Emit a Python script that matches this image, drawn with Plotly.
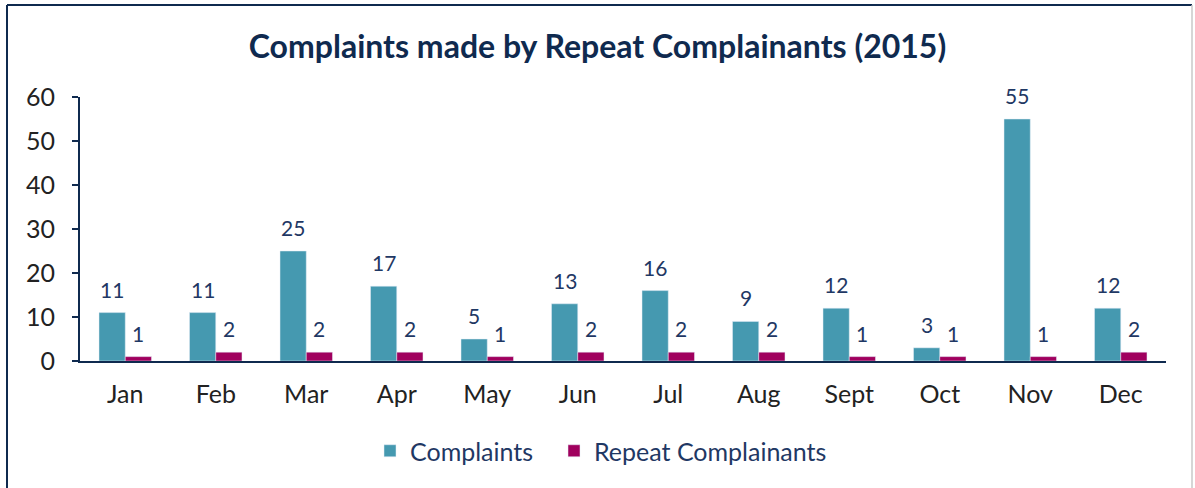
import plotly.graph_objects as go

months = ["Jan", "Feb", "Mar", "Apr", "May", "Jun", "Jul", "Aug", "Sept", "Oct", "Nov", "Dec"]
complaints = [11, 11, 25, 17, 5, 13, 16, 9, 12, 3, 55, 12]
repeat = [1, 2, 2, 2, 1, 2, 2, 2, 1, 1, 1, 2]

NAVY = "#0F2A4F"
LABEL = "#1F3864"
FONT = "Lato"

fig = go.Figure()
fig.add_trace(go.Bar(name="Complaints", x=months, y=complaints, marker_color="#4599B0",
                     legend="legend"))
fig.add_trace(go.Bar(name="Repeat Complainants", x=months, y=repeat, marker_color="#A0005E",
                     legend="legend2"))

W, H = 1195, 488
ml, mr, mt, mb = 80, 29, 97, 127
pw, ph = W - ml - mr, H - mt - mb

def px(x):
    return (x - ml) / pw

def py(y):
    return (H - mb - y) / ph

annotations = []
for series, shift in ((complaints, -13), (repeat, 13)):
    for m, v in zip(months, series):
        annotations.append(dict(x=m, y=v, text=str(v), showarrow=False, xshift=shift,
                                yanchor="bottom", yshift=9,
                                font=dict(size=21, color=LABEL, family=FONT)))

legend_style = dict(orientation="h", xanchor="left", y=py(451), yanchor="middle",
                    font=dict(size=25, color=LABEL, family=FONT), bgcolor="rgba(0,0,0,0)")

fig.update_layout(
    width=W, height=H,
    margin=dict(l=ml, r=mr, t=mt, b=mb),
    paper_bgcolor="white", plot_bgcolor="white",
    barmode="group", bargap=0.42, bargroupgap=0,
    title=dict(text="<b>Complaints made by Repeat Complainants (2015)</b>", x=0.5, xanchor="center",
               y=1 - 47 / H, yanchor="middle", font=dict(size=32, color=NAVY, family=FONT)),
    font=dict(family=FONT),
    legend=dict(x=px(370), **legend_style),
    legend2=dict(x=px(554), **legend_style),
    showlegend=True,
    annotations=annotations,
    xaxis=dict(showline=True, linecolor=NAVY, linewidth=2, ticks="",
               tickfont=dict(size=25, color="#222222", family=FONT), showgrid=False,
               ticklabelstandoff=10),
    yaxis=dict(range=[0, 60], dtick=10, showline=True, linecolor=NAVY, linewidth=2,
               ticks="outside", ticklen=6, tickcolor=NAVY, tickwidth=1.5,
               tickfont=dict(size=25, color="#222222", family=FONT), showgrid=False,
               zeroline=False, ticklabelstandoff=12),
    shapes=[
        dict(type="line", xref="paper", yref="paper", x0=px(7), x1=px(7), y0=py(5), y1=py(H + 5),
             line=dict(color=NAVY, width=2)),
        dict(type="line", xref="paper", yref="paper", x0=px(7), x1=px(1192), y0=py(5), y1=py(5),
             line=dict(color=NAVY, width=2)),
        dict(type="line", xref="paper", yref="paper", x0=px(1192), x1=px(1192), y0=py(5), y1=py(H + 5),
             line=dict(color="#C8C8C8", width=1.5)),
    ],
)

fig.write_html("out.html", config={"displayModeBar": False},
               post_script="document.body.style.margin='0px';")
